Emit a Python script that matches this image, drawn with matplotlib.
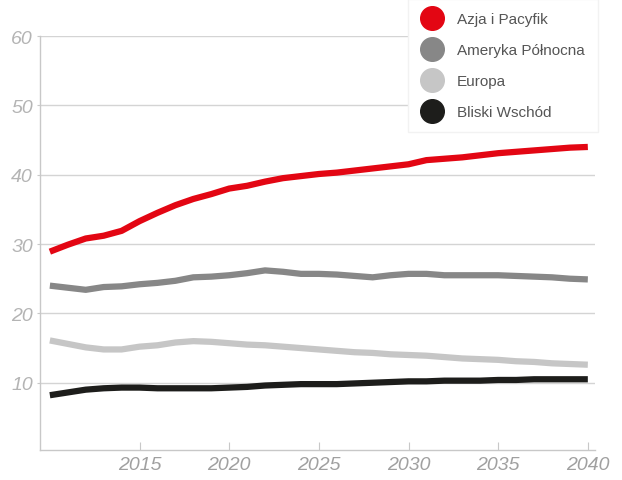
import matplotlib.pyplot as plt
from matplotlib.lines import Line2D

years = list(range(2010, 2041))

azja = [28.9, 29.9, 30.8, 31.2, 31.9, 33.3, 34.5, 35.6, 36.5, 37.2, 38.0,
        38.4, 39.0, 39.5, 39.8, 40.1, 40.3, 40.6, 40.9, 41.2, 41.5,
        42.1, 42.3, 42.5, 42.8, 43.1, 43.3, 43.5, 43.7, 43.9, 44.0]
ameryka = [24.0, 23.7, 23.4, 23.8, 23.9, 24.2, 24.4, 24.7, 25.2, 25.3, 25.5,
           25.8, 26.2, 26.0, 25.7, 25.7, 25.6, 25.4, 25.2, 25.5, 25.7,
           25.7, 25.5, 25.5, 25.5, 25.5, 25.4, 25.3, 25.2, 25.0, 24.9]
europa = [16.1, 15.6, 15.1, 14.8, 14.8, 15.2, 15.4, 15.8, 16.0, 15.9, 15.7,
          15.5, 15.4, 15.2, 15.0, 14.8, 14.6, 14.4, 14.3, 14.1, 14.0,
          13.9, 13.7, 13.5, 13.4, 13.3, 13.1, 13.0, 12.8, 12.7, 12.6]
wschod = [8.2, 8.6, 9.0, 9.2, 9.3, 9.3, 9.2, 9.2, 9.2, 9.2, 9.3,
          9.4, 9.6, 9.7, 9.8, 9.8, 9.8, 9.9, 10.0, 10.1, 10.2,
          10.2, 10.3, 10.3, 10.3, 10.4, 10.4, 10.5, 10.5, 10.5, 10.5]

names = ['Azja i Pacyfik', 'Ameryka Północna', 'Europa', 'Bliski Wschód']
colors = ['#e30613', '#878787', '#c6c6c6', '#1d1d1b']
series = [azja, ameryka, europa, wschod]

xticks = [2015, 2020, 2025, 2030, 2035, 2040]
yticks = [10, 20, 30, 40, 50, 60]

fig = plt.figure(figsize=(6.22, 4.81), dpi=100)
ax = fig.add_axes([40/622, 30/481, 555/622, 414/481])

for s, c in zip(series, colors):
    ax.plot(years, s, color=c, lw=4.5, solid_capstyle='butt', zorder=3)

ax.set_xlim(2009.45, 2040.4)
ax.set_ylim(0.3, 60)
ax.set_xticks(xticks)
ax.set_yticks(yticks)
ax.grid(axis='y', color='#d4d4d4', lw=1)
ax.set_axisbelow(True)
for sp in ['top', 'right']:
    ax.spines[sp].set_visible(False)
for sp in ['left', 'bottom']:
    ax.spines[sp].set_color('#c8c8c8')
    ax.spines[sp].set_linewidth(1)

ax.tick_params(axis='x', direction='in', length=6, color='#c8c8c8', pad=4,
               labelcolor='#a0a0a0')
ax.tick_params(axis='y', direction='out', length=2, color='#c8c8c8', pad=3,
               labelcolor='#b4b4b4')
for lab in ax.get_xticklabels() + ax.get_yticklabels():
    lab.set_family(['Liberation Sans', 'DejaVu Sans'])
    lab.set_style('italic')
    lab.set_size(14)

handles = [Line2D([], [], ls='none', marker='o', ms=17, color=c) for c in colors]
leg = fig.legend(handles, names, loc='upper left',
                 bbox_to_anchor=(408/622, 1.0), borderaxespad=0,
                 prop={'family': ['Liberation Sans', 'DejaVu Sans'], 'size': 11},
                 labelcolor='#555555', frameon=True, fancybox=False,
                 edgecolor='#f2f2f2', facecolor='white', framealpha=1,
                 handlelength=1.5, handletextpad=0.85, labelspacing=1.12,
                 borderpad=0.85)

fig.savefig('out.png', dpi=100)
